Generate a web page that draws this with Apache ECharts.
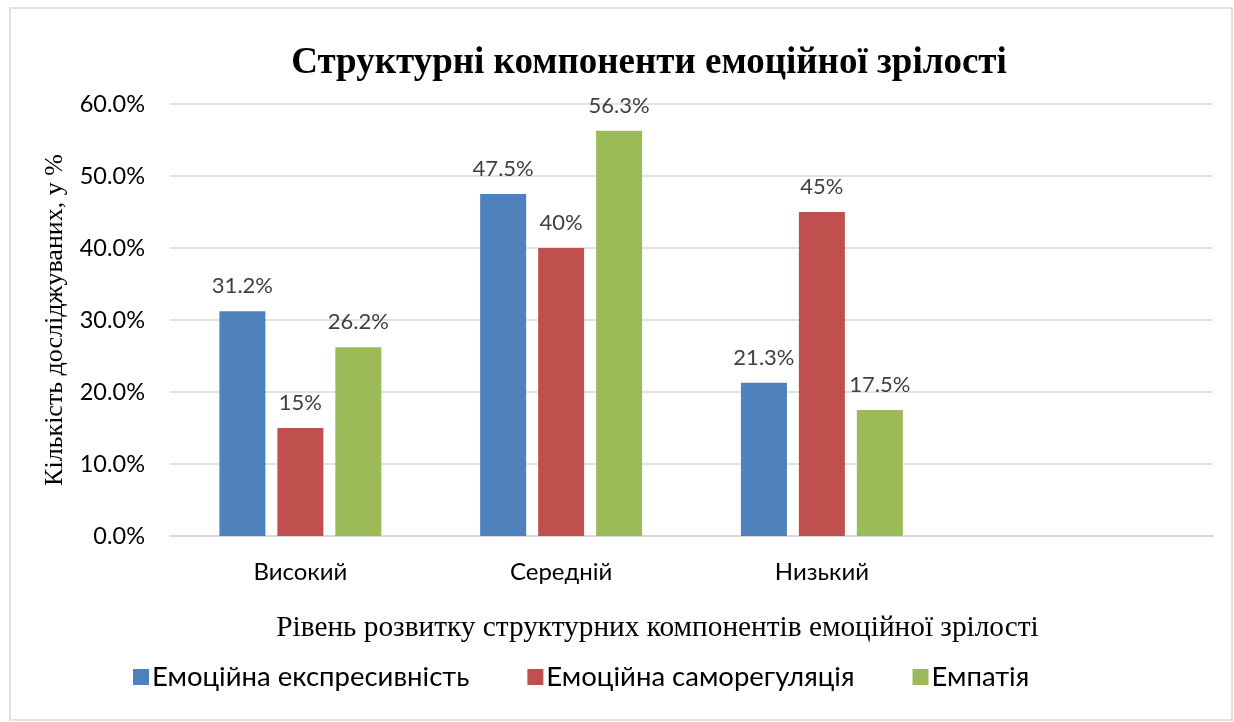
<!DOCTYPE html>
<html>
<head>
<meta charset="utf-8">
<script src="https://cdn.jsdelivr.net/npm/echarts@6/dist/echarts.min.js"></script>
<style>
html, body { margin: 0; padding: 0; background: #fff; }
#main { width: 1234px; height: 722px; }
</style>
</head>
<body>
<div id="main"></div>
<script>
// дані
var categories = ['Високий', 'Середній', 'Низький', ''];
var seriesNames = ['Емоційна експресивність', 'Емоційна саморегуляція', 'Емпатія'];
var expressData = [31.2, 47.5, 21.3, null];
var selfRegData = [15, 40, 45, null];
var empathyData = [26.2, 56.3, 17.5, null];
var yTicks = [0, 10, 20, 30, 40, 50, 60];

var colors = ['#4f81bd', '#c0504d', '#9bbb59'];
var labelFont = 'Lato, "Open Sans", sans-serif';
var serifFont = '"Liberation Serif", "DejaVu Serif", serif';

var myChart = echarts.init(document.getElementById('main'));

var makeSeries = function (name, data, color) {
	return {
		name: name,
		type: 'bar',
		data: data,
		barWidth: 46,
		barGap: '26%',
		itemStyle: { color: color },
		label: {
			show: true,
			position: 'top',
			distance: 14,
			color: '#404040',
			fontFamily: labelFont,
			fontSize: 22,
			formatter: function (p) {
				return p.value + '%';
			}
		}
	};
};

var option = {
	animation: false,
	title: {
		text: 'Структурні компоненти емоційної зрілості',
		left: 644,
		textAlign: 'center',
		top: 40,
		textStyle: {
			fontFamily: serifFont,
			fontWeight: 'bold',
			fontSize: 37,
			color: '#000'
		}
	},
	legend: {
		data: seriesNames,
		bottom: 26,
		left: 128,
		itemWidth: 16,
		itemHeight: 16,
		itemGap: 58,
		icon: 'rect',
		textStyle: {
			fontFamily: labelFont,
			fontSize: 27.5,
			color: '#000',
			padding: [0, 0, 0, -2]
		}
	},
	grid: {
		left: 170,
		right: 21,
		top: 104,
		bottom: 186,
		containLabel: false
	},
	xAxis: {
		type: 'category',
		data: categories,
		name: 'Рівень розвитку структурних компонентів емоційної зрілості',
		nameLocation: 'middle',
		nameGap: 78,
		nameTextStyle: {
			fontFamily: serifFont,
			fontSize: 29.3,
			color: '#000',
			padding: [0, 0, 0, -68]
		},
		axisLine: { lineStyle: { color: '#d9d9d9', width: 2 } },
		axisTick: { show: false },
		axisLabel: {
			margin: 24,
			fontFamily: labelFont,
			fontSize: 24,
			color: '#000'
		}
	},
	yAxis: {
		type: 'value',
		min: yTicks[0],
		max: yTicks[yTicks.length - 1],
		interval: 10,
		name: 'Кількість досліджуваних, у %',
		nameLocation: 'middle',
		nameGap: 102,
		nameTextStyle: {
			fontFamily: serifFont,
			fontSize: 26,
			color: '#000'
		},
		axisLine: { show: false },
		axisTick: { show: false },
		splitLine: { lineStyle: { color: '#d9d9d9', width: 1.5 } },
		axisLabel: {
			margin: 25,
			fontFamily: labelFont,
			fontSize: 23.5,
			color: '#000',
			formatter: function (v) {
				return v.toFixed(1) + '%';
			}
		}
	},
	graphic: [{
		type: 'rect',
		shape: { x: 10, y: 8, width: 1222, height: 712 },
		style: { fill: 'none', stroke: '#d9d9d9', lineWidth: 1.5 },
		silent: true
	}],
	series: [
		makeSeries(seriesNames[0], expressData, colors[0]),
		makeSeries(seriesNames[1], selfRegData, colors[1]),
		makeSeries(seriesNames[2], empathyData, colors[2])
	]
};

myChart.setOption(option);
</script>
</body>
</html>
